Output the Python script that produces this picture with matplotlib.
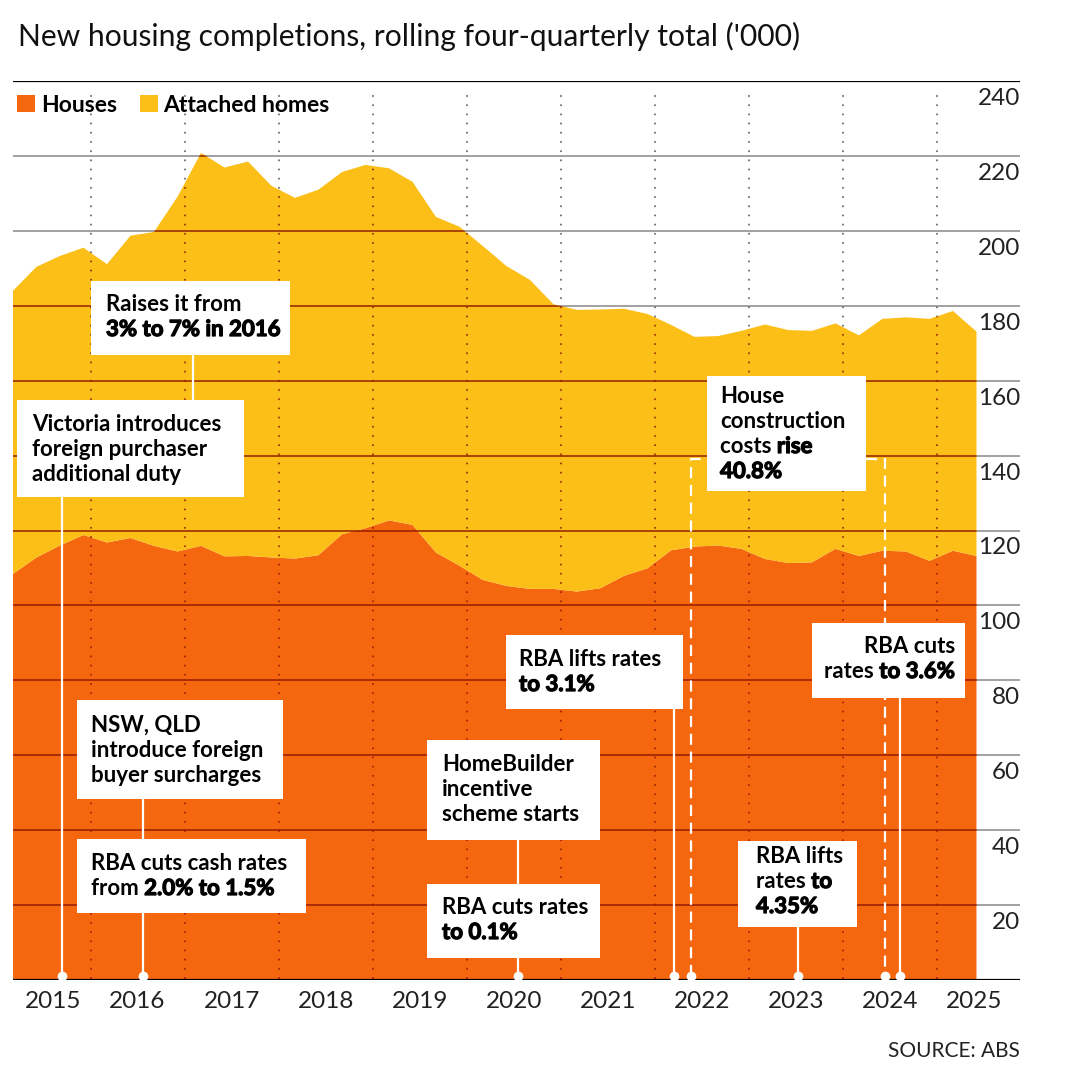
import numpy as np
import pandas as pd
import matplotlib
matplotlib.use("Agg")
import matplotlib.pyplot as plt
import matplotlib.patheffects as pe
from matplotlib.patches import Rectangle

plt.rcParams['font.family'] = ['Lato', 'DejaVu Sans']

# rolling four-quarterly totals ('000)
quarters = pd.period_range("2014Q3", "2024Q4", freq="Q")
houses = [108.4, 112.8, 116.0, 118.8, 116.8, 118.0, 115.9, 114.4, 115.9, 113.1,
          113.2, 112.8, 112.5, 113.4, 119.0, 120.6, 122.7, 121.5, 114.1, 110.6,
          106.8, 105.2, 104.4, 104.4, 103.7, 104.6, 107.9, 109.9, 114.7, 115.7,
          116.0, 115.1, 112.4, 111.3, 111.5, 115.1, 113.2, 114.6, 114.4, 111.9,
          114.6, 113.2]
attached = [75.6, 77.6, 77.3, 76.7, 74.3, 80.7, 83.8, 94.7, 104.9, 103.8,
            105.3, 99.2, 96.3, 97.6, 96.7, 97.0, 94.0, 91.6, 89.6, 90.5,
            89.1, 85.4, 82.5, 76.0, 75.2, 74.4, 71.3, 67.9, 60.2, 56.0,
            55.9, 58.2, 62.6, 62.2, 61.8, 60.2, 58.9, 61.9, 62.5, 64.6,
            64.0, 59.9]
year_labels = ["2015", "2016", "2017", "2018", "2019", "2020",
               "2021", "2022", "2023", "2024", "2025"]
year_pos = [2015.1, 2015.99, 2017, 2018, 2019, 2020, 2021, 2022, 2023, 2024, 2024.9]
y_ticks = [20, 40, 60, 80, 100, 120, 140, 160, 180, 200, 220, 240]

ORANGE = "#F4670F"
YELLOW = "#FBBF18"
DARKRED = "#8E1800"
GREY = "#9A9A9A"

x = np.array([q.year + q.quarter / 4 - 0.08 for q in quarters])
total = np.array(houses) + np.array(attached)

W, H = 1080, 1068
fig = plt.figure(figsize=(W / 100, H / 100), dpi=100)
ax = fig.add_axes([13 / W, 1 - 980 / H, (1020 - 13) / W, (980 - 81) / H])
ax.set_xlim(2014.67, 2025.383)
ax.set_ylim(0, 240)
ax.axis("off")

# stacked areas
ax.stackplot(x, houses, attached, colors=[ORANGE, YELLOW], lw=0, zorder=1)
clip_area = ax.fill_between(x, 0, total, color="none", lw=0)
clip_path = clip_area.get_paths()[0]

# gridlines: grey on white, dark red over the areas
for v in y_ticks[:-1]:
    ax.axhline(v, color=GREY, lw=1.3, zorder=0.5)
    ln = ax.axhline(v, color=DARKRED, lw=1.3, alpha=0.8, zorder=2)
    ln.set_clip_path(clip_path, ax.transData)
ax.axhline(240, color="black", lw=1.6, zorder=3)
ax.axhline(0, color="black", lw=1.6, zorder=3)

# dotted mid-year lines
for yr in range(2015, 2025):
    kw = dict(ls=(0, (0.01, 4.4)), lw=1.5, dash_capstyle="round")
    ax.plot([yr + 0.5, yr + 0.5], [0.5, 238], color="#6f6f6f", zorder=0.5, **kw)
    ln, = ax.plot([yr + 0.5, yr + 0.5], [0.5, 238], color=DARKRED, alpha=0.8, zorder=2, **kw)
    ln.set_clip_path(clip_path, ax.transData)

# axis labels
for v in y_ticks:
    ax.annotate(str(v), xy=(1, v), xycoords=ax.get_yaxis_transform(),
                xytext=(0, -5), textcoords="offset points",
                ha="right", va="top", fontsize=17.5, color="#222222")
for p, lab in zip(year_pos, year_labels):
    ax.annotate(lab, xy=(p, 0), xytext=(0, -8), textcoords="offset points",
                ha="center", va="top", fontsize=17.5, color="#222222")

# overlay in pixel coordinates for title, legend and annotation boxes
ov = fig.add_axes([0, 0, 1, 1], zorder=5)
ov.set_xlim(0, W)
ov.set_ylim(H, 0)
ov.axis("off")
ov.patch.set_alpha(0)

ov.text(18, 46, "New housing completions, rolling four-quarterly total ('000)",
        fontsize=21.6, va="baseline", color="#111111")
ov.text(1020, 1057, "SOURCE: ABS", fontsize=15, ha="right", va="baseline", color="#222222")

ov.add_patch(Rectangle((17, 95), 18, 17, fc=ORANGE, ec="none"))
ov.text(41, 112, "Houses", fontsize=16.5, fontweight="bold", va="baseline")
ov.add_patch(Rectangle((140, 95), 18, 17, fc=YELLOW, ec="none"))
ov.text(163, 112, "Attached homes", fontsize=16.5, fontweight="bold", va="baseline")

# S = normal bold, B = heavier (bold plus a thin stroke)
S, B = "s", "b"
HEAVY = [pe.withStroke(linewidth=0.9, foreground="black")]
FS = 16


def style(w):
    return dict(fontweight="bold", fontsize=FS, color="black",
                path_effects=HEAVY if w == B else None)


def draw_line(tx, ty, segs, ha="left"):
    if ha == "left":
        t = ov.text(tx, ty, segs[0][0], va="baseline", **style(segs[0][1]))
        for s, w in segs[1:]:
            t = ov.annotate(s, xy=(1, 0), xycoords=t, ha="left", va="bottom", **style(w))
    else:
        t = ov.text(tx, ty, segs[-1][0], va="baseline", ha="right", **style(segs[-1][1]))
        for s, w in segs[-2::-1]:
            t = ov.annotate(s, xy=(0, 0), xycoords=t, ha="right", va="bottom", **style(w))


# (box, text x, first baseline, alignment, lines)
notes = [
    ((91, 281, 290, 355), 106, 311, "left",
     [[("Raises it from", S)], [("3% to 7% in 2016", B)]]),
    ((17, 400, 244, 497), 32, 431, "left",
     [[("Victoria introduces", S)], [("foreign purchaser", S)], [("additional duty", S)]]),
    ((77, 700, 283, 799), 91, 732, "left",
     [[("NSW, QLD", S)], [("introduce foreign", S)], [("buyer surcharges", S)]]),
    ((77, 839, 306, 913), 91, 870, "left",
     [[("RBA cuts cash rates", S)], [("from ", S), ("2.0% to 1.5%", B)]]),
    ((427, 740, 600, 840), 442, 771, "left",
     [[("HomeBuilder", S)], [("incentive", S)], [("scheme starts", S)]]),
    ((427, 884, 600, 958), 442, 914, "left",
     [[("RBA cuts rates", S)], [("to 0.1%", B)]]),
    ((506, 635, 683, 709), 519, 666, "left",
     [[("RBA lifts rates", S)], [("to 3.1%", B)]]),
    ((707, 376, 866, 491), 720, 403, "left",
     [[("House", S)], [("construction", S)], [("costs ", S), ("rise", B)], [("40.8%", B)]]),
    ((738, 841, 857, 927), 756, 863, "left",
     [[("RBA lifts", S)], [("rates ", S), ("to", B)], [("4.35%", B)]]),
    ((812, 623, 965, 698), 955, 653, "right",
     [[("RBA cuts", S)], [("rates ", S), ("to 3.6%", B)]]),
]

# connector lines: (x, y from, y to)
connectors = [(193, 355, 400), (62, 497, 976), (143, 799, 839), (143, 913, 976),
              (518, 840, 884), (518, 958, 976), (674, 709, 976), (798, 927, 976),
              (900, 698, 976)]
dots = [62, 143, 518, 674, 691, 798, 885, 900]

for cx, y0, y1 in connectors:
    ov.plot([cx, cx], [y0, y1], color="white", lw=1.6, zorder=1)
ov.plot([691, 691, 707], [976, 459, 459], color="white", lw=1.6, ls=(0, (5, 3)), zorder=1)
ov.plot([866, 885, 885], [459, 459, 976], color="white", lw=1.6, ls=(0, (5, 3)), zorder=1)
ov.plot(dots, [976] * len(dots), "o", color="white", ms=7, mec="none", zorder=1)

for (x0, y0, x1, y1), tx, ty, ha, lines in notes:
    ov.add_patch(Rectangle((x0, y0), x1 - x0, y1 - y0, fc="white", ec="none", zorder=2))
    for i, segs in enumerate(lines):
        draw_line(tx, ty + i * 25, segs, ha=ha)

fig.savefig("out.png", dpi=100)
